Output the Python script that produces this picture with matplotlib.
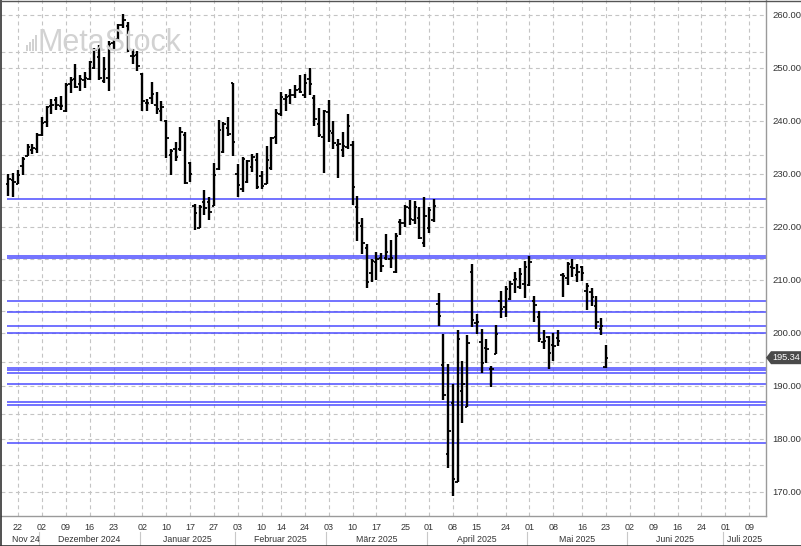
import matplotlib
matplotlib.use('Agg')
import matplotlib.pyplot as plt
import numpy as np
import pandas as pd
from matplotlib.patches import Polygon, Rectangle
from matplotlib.transforms import IdentityTransform, blended_transform_factory

plt.rcParams['font.family'] = ['Liberation Sans', 'DejaVu Sans']

# ---------------- data ----------------
holidays = ['2024-11-28', '2024-12-25', '2025-01-01', '2025-01-09', '2025-01-20',
            '2025-02-17', '2025-04-18', '2025-05-26', '2025-06-19', '2025-07-04']
first_date = '2024-11-20'
last_date = '2025-05-23'

opens = [228.06, 228.88, 228.06, 231.46, 233.33, 234.47, 234.81,
         237.27, 239.81, 242.87, 243.99, 242.91, 241.83, 246.89, 247.96, 246.89, 247.82,
         247.99, 250.08, 252.16, 247.50, 248.04, 254.77, 255.49, 258.19, 257.83, 252.23, 252.44,
         248.93, 243.36, 244.31, 242.98, 241.92, 240.01, 233.53, 234.75, 234.64, 237.35,
         232.12, 224.00, 219.79, 224.74, 224.78, 224.02, 230.85, 234.12, 238.67, 247.19,
         229.99, 227.25, 228.53, 231.29, 232.60, 229.57, 228.20, 231.20, 236.91, 241.25,
         244.15, 244.66, 244.94, 245.95, 244.93, 248.00, 244.33, 239.41, 236.95,
         241.79, 237.71, 235.42, 234.44, 235.11, 235.54, 223.81, 220.14, 215.95, 211.25,
         213.31, 214.16, 214.22, 213.99, 211.56, 221.00, 220.77, 223.51, 221.39, 221.67, 217.01,
         219.81, 221.32, 205.54, 193.89, 177.20, 186.70, 171.95, 189.07, 186.10, 211.44,
         201.86, 198.36, 197.20, 193.27, 196.12, 206.00, 204.89, 206.37, 210.00, 208.69, 209.30,
         209.08, 206.09, 203.10, 198.21, 199.17, 197.72, 199.00, 210.97, 210.43, 212.43,
         210.95, 212.36, 207.91, 207.67, 205.17, 200.71, 193.67]
highs = [229.93, 230.16, 230.72, 233.25, 235.57, 235.69, 237.81,
         240.79, 242.76, 244.11, 244.54, 244.63, 247.24, 248.21, 250.80, 248.74, 249.29,
         251.38, 253.83, 254.28, 252.00, 255.00, 255.65, 258.21, 260.10, 258.70, 253.50, 253.28,
         249.10, 244.18, 247.33, 245.55, 243.71, 240.16, 234.67, 236.12, 238.96, 238.01,
         232.29, 224.42, 224.12, 227.03, 225.63, 232.15, 240.19, 239.86, 240.79, 247.19,
         231.83, 233.13, 232.67, 233.80, 234.00, 230.59, 235.23, 236.96, 242.34, 245.55,
         245.18, 246.01, 246.78, 248.69, 248.86, 250.00, 244.98, 242.46, 242.09,
         244.03, 240.07, 236.55, 237.86, 241.37, 236.16, 225.84, 221.75, 216.84, 213.95,
         215.22, 215.15, 218.76, 217.49, 218.84, 221.48, 224.10, 225.02, 224.99, 223.81, 225.62,
         223.68, 225.19, 207.49, 199.88, 194.15, 190.34, 200.61, 194.78, 199.54, 212.94,
         203.51, 200.70, 198.83, 193.80, 201.59, 208.00, 208.83, 209.75, 211.50, 212.24, 213.58,
         214.56, 206.99, 204.10, 200.65, 199.44, 200.05, 200.54, 211.27, 213.40, 213.94,
         212.96, 212.57, 209.48, 208.47, 207.04, 202.75, 197.70]
lows = [225.89, 225.71, 228.06, 229.74, 233.33, 233.81, 233.97,
        237.16, 238.90, 241.25, 242.13, 242.08, 241.75, 245.34, 246.26, 245.68, 246.24,
        247.65, 249.78, 247.74, 247.09, 245.69, 253.45, 255.29, 257.63, 253.06, 250.75, 249.43,
        241.82, 241.89, 243.20, 241.35, 240.05, 233.00, 229.72, 232.47, 234.43, 228.03,
        228.48, 219.38, 219.79, 222.30, 221.41, 223.98, 230.81, 234.01, 237.21, 233.44,
        225.70, 226.65, 228.27, 230.43, 227.26, 227.20, 228.13, 230.68, 235.57, 240.99,
        241.84, 243.16, 244.29, 245.22, 244.42, 244.91, 239.13, 237.06, 230.20,
        236.11, 234.68, 229.23, 233.16, 234.76, 224.22, 217.45, 214.91, 208.42, 209.58,
        209.97, 211.49, 213.75, 212.22, 211.28, 218.58, 220.08, 220.47, 220.56, 217.68, 216.23,
        218.90, 221.02, 201.25, 187.34, 174.62, 169.21, 171.89, 183.00, 186.06, 201.16,
        199.80, 192.37, 194.42, 189.81, 195.97, 202.80, 202.94, 206.20, 207.46, 208.37, 206.67,
        208.90, 202.16, 198.21, 197.02, 193.25, 194.68, 197.54, 206.75, 209.00, 210.58,
        209.54, 209.77, 204.26, 205.03, 200.71, 199.70, 193.46]
closes = [229.00, 228.52, 229.87, 232.87, 235.06, 234.93, 237.33,
          239.59, 242.65, 243.01, 243.04, 242.84, 246.75, 247.77, 246.49, 247.96, 248.13,
          251.04, 253.48, 248.05, 249.79, 254.49, 255.27, 258.20, 259.02, 255.59, 252.20, 250.42,
          243.85, 243.36, 245.00, 242.21, 242.70, 236.85, 234.40, 233.28, 237.87, 228.26,
          229.98, 222.64, 223.83, 223.66, 222.78, 229.86, 238.26, 239.36, 237.59, 236.00,
          228.01, 232.80, 232.47, 233.22, 227.63, 227.65, 232.62, 236.87, 241.53, 244.60,
          244.47, 244.87, 245.83, 245.55, 247.10, 247.04, 240.36, 237.30, 241.84,
          238.03, 235.93, 235.74, 235.33, 239.07, 227.48, 220.84, 216.98, 209.68, 213.49,
          214.00, 212.69, 215.24, 214.10, 218.27, 220.73, 223.75, 221.53, 223.85, 217.90, 222.13,
          223.19, 223.89, 203.19, 188.38, 181.46, 172.42, 198.85, 190.42, 198.15, 202.52,
          202.14, 194.27, 196.98, 193.16, 199.74, 204.60, 208.37, 209.28, 210.14, 211.21, 212.50,
          213.32, 205.35, 198.89, 198.51, 196.25, 197.49, 198.53, 210.79, 212.93, 212.33,
          211.45, 211.26, 208.78, 206.86, 202.09, 201.36, 195.34]

level_lines = [225.28, 214.58, 214.21, 206.09, 203.91, 201.32, 199.94,
               193.40, 192.96, 192.51, 190.32, 186.92, 186.47, 179.19]

ytick_values = [170, 180, 190, 200, 210, 220, 230, 240, 250, 260]
extra_grid_values = [253.0, 243.3, 233.5, 223.8, 214.0, 204.2, 194.6, 184.8, 175.0]
xtick_dates = ['2024-11-22', '2024-12-02', '2024-12-09', '2024-12-16', '2024-12-23',
               '2025-01-02', '2025-01-10', '2025-01-17', '2025-01-27', '2025-02-03',
               '2025-02-10', '2025-02-14', '2025-02-24', '2025-03-03', '2025-03-10',
               '2025-03-17', '2025-03-25', '2025-04-01', '2025-04-08', '2025-04-15',
               '2025-04-24', '2025-05-01', '2025-05-08', '2025-05-16', '2025-05-23',
               '2025-06-02', '2025-06-09', '2025-06-16', '2025-06-24', '2025-07-01',
               '2025-07-09']
month_labels = ['Nov 24', 'Dezember 2024', 'Januar 2025', 'Februar 2025', 'März 2025',
                'April 2025', 'Mai 2025', 'Juni 2025', 'Juli 2025']
month_starts = ['2024-11-01', '2024-12-01', '2025-01-01', '2025-02-01', '2025-03-01',
                '2025-04-01', '2025-05-01', '2025-06-01', '2025-07-01']
last_price_label = '195.34'
watermark = 'MetaStock'

# ---------------- calendar ----------------
cal = pd.bdate_range(first_date, '2025-07-31', freq='C', holidays=holidays)
pos = {d.strftime('%Y-%m-%d'): i for i, d in enumerate(cal)}
n = len(opens)
x = np.arange(n)

W, H = 801, 546
fig = plt.figure(figsize=(W / 100, H / 100), dpi=100)
ax = fig.add_axes([1 / W, 1 - 516 / H, 765 / W, 516 / H])
xmin, xmax = -1.55, 158.5
ymin, ymax = 165.47, 262.83
ax.set_xlim(xmin, xmax)
ax.set_ylim(ymin, ymax)

grid_kw = dict(color='#c4c4c4', lw=0.8, dashes=(3.5, 3), zorder=0)
for v in ytick_values + extra_grid_values:
    ax.axhline(v, **grid_kw)
for d in xtick_dates:
    ax.axvline(pos[d], **grid_kw)

# watermark
fig.text(37 / W, 1 - 51 / H, watermark, fontsize=22, color='#d2d2d2', va='baseline',
         ha='left', zorder=0.5)
for k, hgt in enumerate([6, 9, 12, 16]):
    fig.add_artist(Rectangle(((26 + k * 3) / W, 1 - 51 / H), 1.6 / W, hgt / H,
                             transform=fig.transFigure, fc='#d2d2d2', ec='none', zorder=0.5))

# levels
for lv in level_lines:
    ax.hlines(lv, -0.2, xmax, color='#4c4cff', lw=1.1, zorder=1)

# OHLC bars
ax.vlines(x, lows, highs, color='black', lw=1.7, zorder=3)
ax.hlines(opens, x - 0.5, x, color='black', lw=1.3, zorder=3)
ax.hlines(closes, x, x + 0.5, color='black', lw=1.3, zorder=3)

# axes styling
for s in ['left', 'top']:
    ax.spines[s].set_visible(False)
for s in ['right', 'bottom']:
    ax.spines[s].set_color('#9a9a9a')
    ax.spines[s].set_linewidth(1.0)
ax.set_xticks([])
ax.yaxis.tick_right()
ax.set_yticks(ytick_values)
ax.set_yticklabels([f'{v:.2f}' for v in ytick_values])
ax.tick_params(axis='y', length=0, pad=4.5, labelsize=6.8, labelcolor='#333333')

tr = blended_transform_factory(ax.transData, fig.transFigure)
for d in xtick_dates:
    ax.text(pos[d], 1 - 527 / H, d[-2:], transform=tr, ha='center', va='center',
            fontsize=6.5, color='#333333', clip_on=False)

# month row
bounds = []
for ms in month_starts:
    first = cal[cal >= pd.Timestamp(ms)][0]
    bounds.append(max(pos[first.strftime('%Y-%m-%d')] - 0.5, xmin))
bounds.append(xmax)
for i, lab in enumerate(month_labels):
    a, b = bounds[i], bounds[i + 1]
    cx = (a + b) / 2 if i > 0 else (a + b) / 2 + 0.7
    ax.text(cx, 1 - 539 / H, lab, transform=tr, ha='center', va='center',
            fontsize=6.3, color='#333333', clip_on=False)
    if i > 0:
        ax.plot([a, a], [1 - 532 / H, 1 - 545 / H], transform=tr, color='#c8c8c8',
                lw=0.8, clip_on=False)

# frame of figure
fig.add_artist(plt.Line2D([0.5 / W, 0.5 / W], [0, 1], color='#333333', lw=1.2,
                          transform=fig.transFigure))
fig.add_artist(plt.Line2D([0, 1], [0.5 / H, 0.5 / H], color='#333333', lw=1.2,
                          transform=fig.transFigure))
fig.add_artist(plt.Line2D([0, 1], [1 - 0.5 / H, 1 - 0.5 / H], color='#555555', lw=1.0,
                          transform=fig.transFigure))

# last price tag
fig.canvas.draw()
py = ax.transData.transform((0, closes[-1]))[1]
px0 = ax.transAxes.transform((1, 0))[0]
verts = [(px0, py), (px0 + 5, py + 6.5), (W, py + 6.5), (W, py - 6.5), (px0 + 5, py - 6.5)]
fig.add_artist(Polygon(verts, closed=True, transform=IdentityTransform(), fc='#4a4a4a',
                       ec='none'))
fig.text((px0 + 6) / W, py / H, last_price_label, color='white', fontsize=6.6,
         va='center', ha='left')

fig.savefig('out.png', dpi=100)
